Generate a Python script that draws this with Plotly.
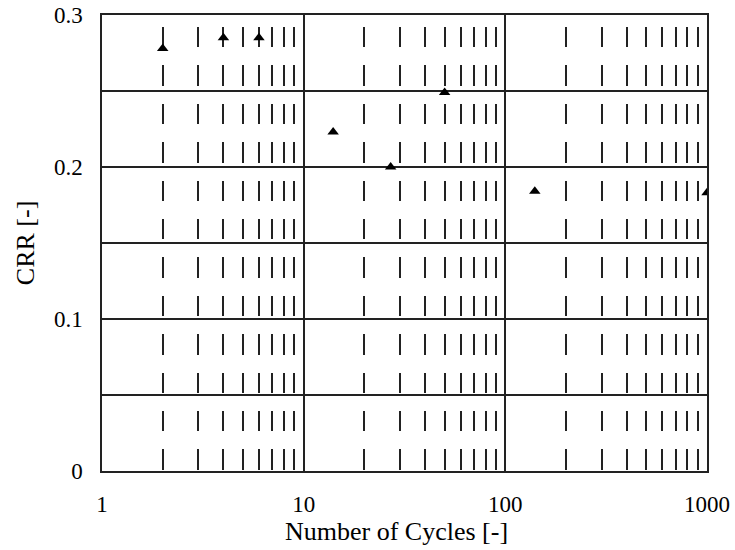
import plotly.graph_objects as go

# Data
cycles = [2, 4, 6, 14, 27, 50, 140, 1000]
crr = [0.278, 0.285, 0.285, 0.223, 0.2, 0.249, 0.184, 0.183]

x_tickvals = [1, 10, 100, 1000]
x_ticktext = ["1", "10", "100", "1000"]
x_minor_vals = [m * d for d in (1, 10, 100) for m in range(2, 10)]
y_tickvals = [0, 0.05, 0.1, 0.15, 0.2, 0.25, 0.3]
y_ticktext = ["0", "", "0.1", "", "0.2", "", "0.3"]
x_title = "Number of Cycles [-]"
y_title = "CRR [-]"

FONT = "Liberation Serif"
LINE = "#222222"

fig = go.Figure()
fig.add_trace(go.Scatter(
    x=cycles, y=crr, mode="markers",
    marker=dict(symbol="triangle-up", size=10, color="black"),
    showlegend=False,
))

fig.update_layout(
    width=735, height=550,
    margin=dict(l=102, r=28, t=15, b=79),
    paper_bgcolor="white", plot_bgcolor="white",
    font=dict(family=FONT, size=23, color="black"),
    annotations=[
        dict(text=x_title, xref="paper", yref="paper", x=0.486, y=-0.097,
             xanchor="center", yanchor="top", showarrow=False,
             font=dict(family=FONT, size=26)),
        dict(text=y_title, xref="paper", yref="paper", x=-0.127, y=0.5,
             xanchor="center", yanchor="middle", textangle=-90, showarrow=False,
             font=dict(family=FONT, size=26)),
    ],
)
fig.update_xaxes(
    type="log", range=[0, 3], automargin=False,
    tickmode="array", tickvals=x_tickvals, ticktext=x_ticktext,
    showgrid=True, gridcolor=LINE, gridwidth=1.5,
    showline=True, linecolor=LINE, linewidth=1.5, mirror=True,
    ticks="", ticklen=0, ticklabelstandoff=12,
    minor=dict(tickmode="array", tickvals=x_minor_vals, showgrid=True,
               gridcolor=LINE, gridwidth=1.5, griddash="0px,12px,20.4px,6px", ticks=""),
    tickfont=dict(family=FONT, size=23),
    zeroline=False,
)
fig.update_yaxes(
    range=[0, 0.3], automargin=False,
    tickmode="array", tickvals=y_tickvals, ticktext=y_ticktext,
    showgrid=True, gridcolor=LINE, gridwidth=1.5,
    showline=True, linecolor=LINE, linewidth=1.5, mirror=True,
    ticks="", zeroline=False, ticklabelstandoff=13,
    tickfont=dict(family=FONT, size=23),
)

fig.write_html("out.html")
